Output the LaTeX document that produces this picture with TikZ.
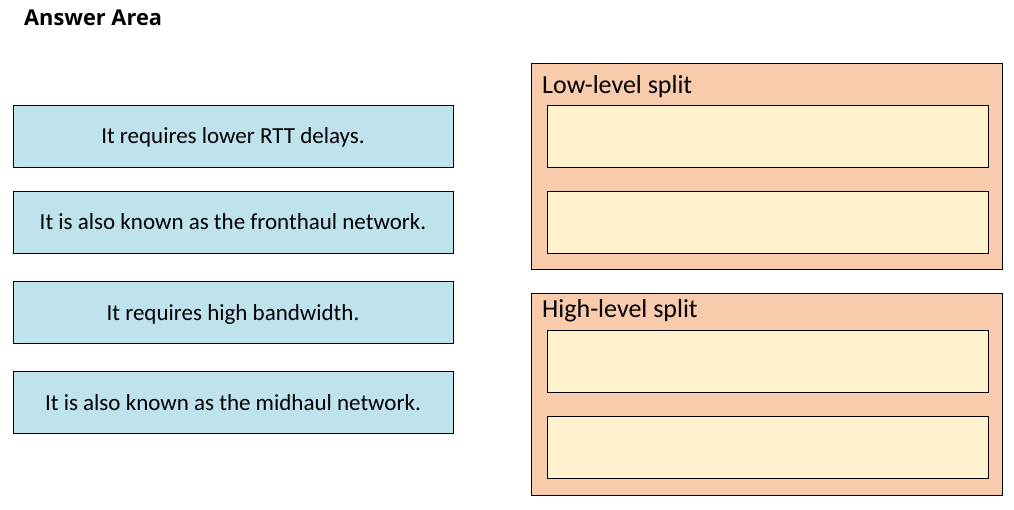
\documentclass[tikz,border=0pt]{standalone}
\usepackage{fontspec}
\setmainfont{Carlito}
\newfontfamily\titlefont{Open Sans}
\definecolor{cardblue}{RGB}{190,227,237}
\definecolor{peach}{RGB}{248,203,173}
\definecolor{cream}{RGB}{255,242,204}
\begin{document}
\begin{tikzpicture}[x=1pt,y=-1pt,
  card/.style={draw=black,line width=0.9pt,fill=cardblue,minimum width=440pt,minimum height=62pt,inner sep=0pt,text height=16pt,text depth=0pt,font=\fontsize{23}{26}\selectfont},
  group/.style={draw=black,line width=0.9pt,fill=peach,minimum width=471pt,inner sep=0pt},
  slot/.style={draw=black,line width=0.9pt,fill=cream,minimum width=441pt,minimum height=62pt,inner sep=0pt},
  grouptitle/.style={anchor=base west,inner sep=0pt,font=\fontsize{26}{30}\selectfont}]
\useasboundingbox (0,0) rectangle (1014,510);
\node[anchor=base west,inner sep=0pt,font=\titlefont\bfseries\fontsize{21.8}{25}\selectfont] (title) at (24,26) {Answer Area};
\node[card] (c1) at (233,136) {It requires lower RTT delays.};
\node[card] (c2) at (233,222) {It is also known as the fronthaul network.};
\node[card] (c3) at (233,312) {It requires high bandwidth.};
\node[card] (c4) at (233,402) {It is also known as the midhaul network.};
\node[group,minimum height=206pt] (low) at (766.5,166) {};
\node[grouptitle] (lowt) at (542,94) {Low-level split};
\node[slot] (l1) at (767.5,136) {};
\node[slot] (l2) at (767.5,222) {};
\node[group,minimum height=202pt] (high) at (766.5,394) {};
\node[grouptitle] (hight) at (542,318) {High-level split};
\node[slot] (h1) at (767.5,361) {};
\node[slot] (h2) at (767.5,447) {};
\end{tikzpicture}
\end{document}
